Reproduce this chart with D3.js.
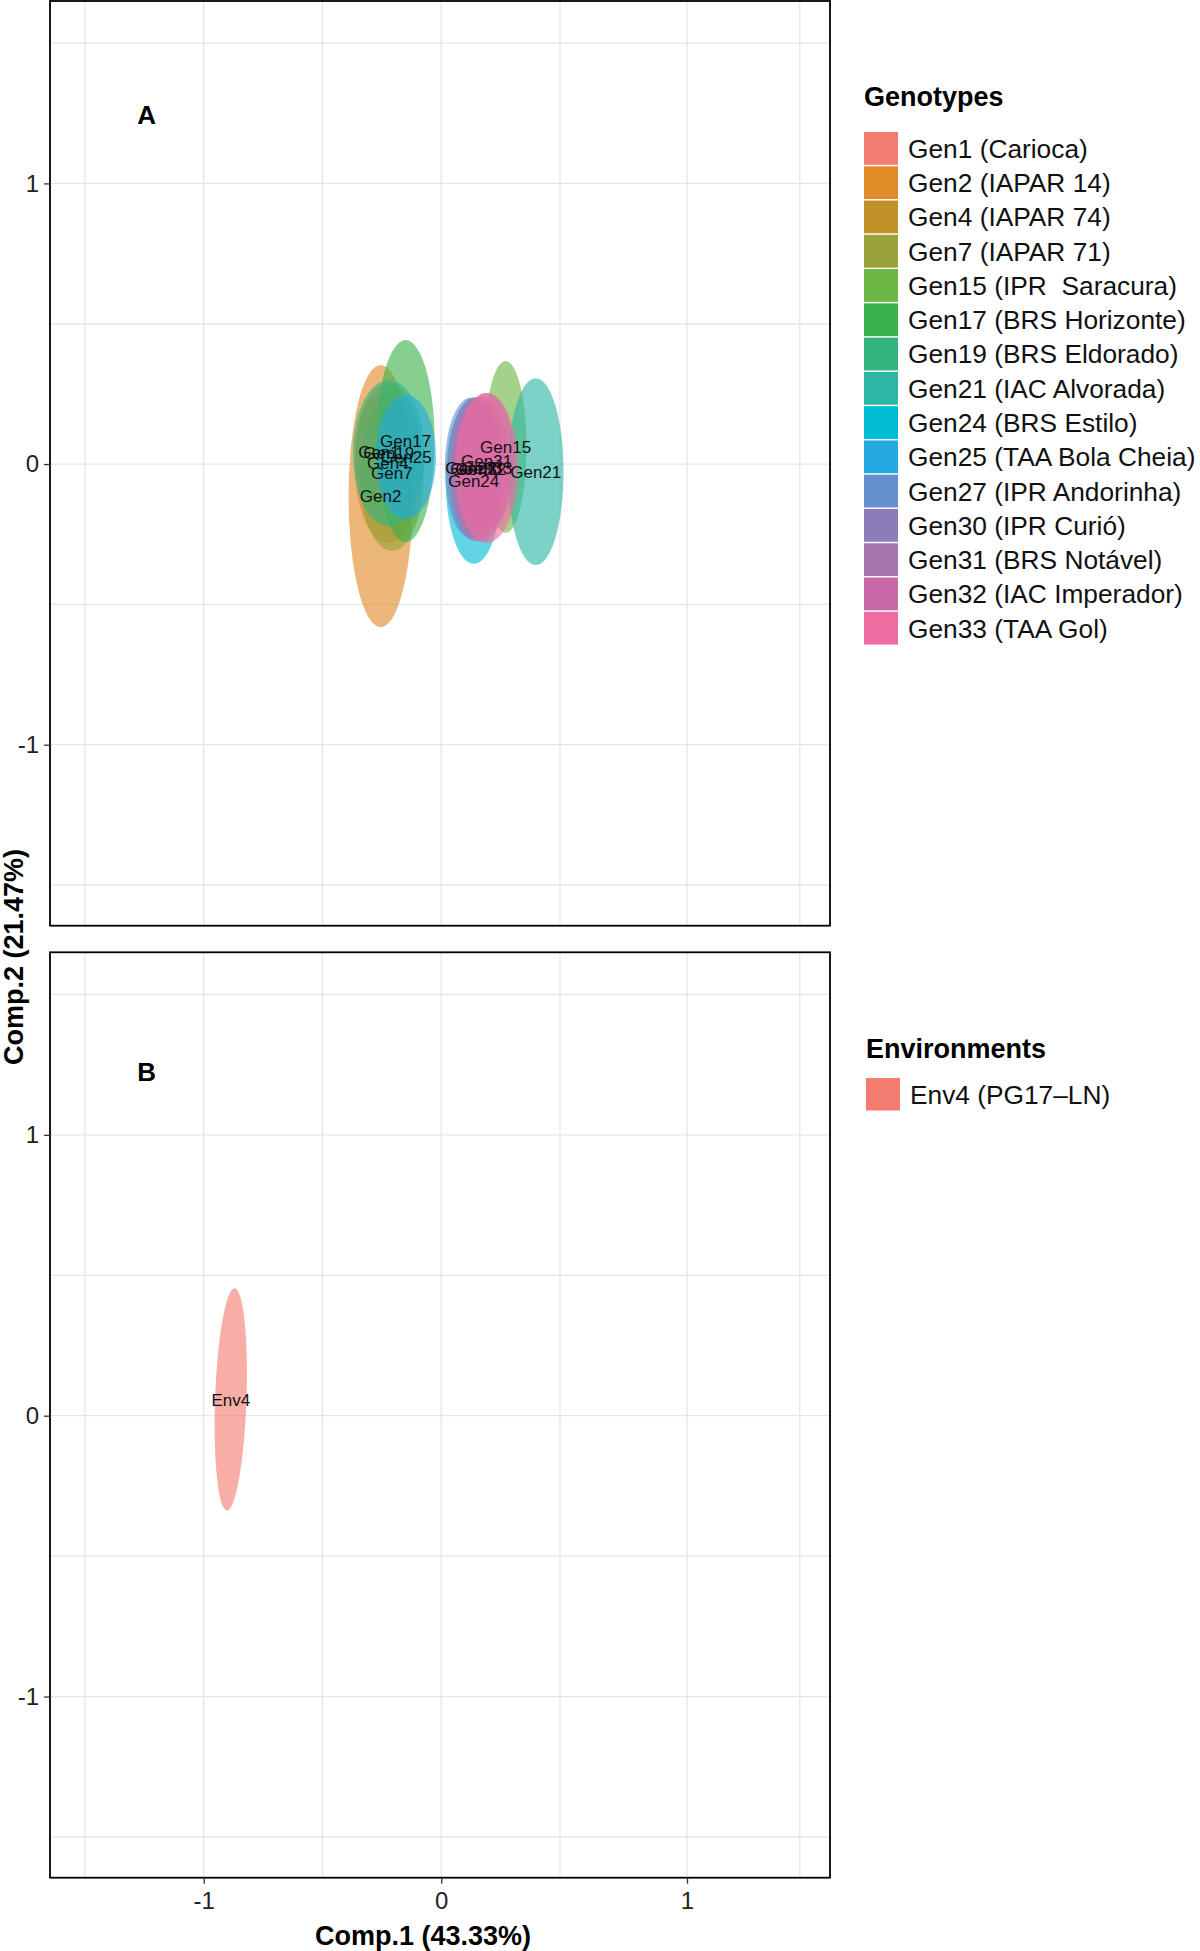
<!DOCTYPE html>
<html>
<head>
<meta charset="utf-8">
<script src="https://cdn.jsdelivr.net/npm/d3@7/dist/d3.min.js"></script>
<style>
  body { margin: 0; background: #fff; }
  svg text { font-family: "Liberation Sans", Arial, sans-serif; }
</style>
</head>
<body>
<svg id="chart" width="1200" height="1951"></svg>
<script>
// Genotype ellipses (panel A), centres and semi-axes in Comp.1 / Comp.2 units
var genotypes = ["Gen1", "Gen2", "Gen4", "Gen7", "Gen15", "Gen17", "Gen19", "Gen21",
                 "Gen24", "Gen25", "Gen27", "Gen30", "Gen31", "Gen32", "Gen33"];
var genotypeNames = ["Gen1 (Carioca)", "Gen2 (IAPAR 14)", "Gen4 (IAPAR 74)", "Gen7 (IAPAR 71)",
                     "Gen15 (IPR  Saracura)", "Gen17 (BRS Horizonte)", "Gen19 (BRS Eldorado)",
                     "Gen21 (IAC Alvorada)", "Gen24 (BRS Estilo)", "Gen25 (TAA Bola Cheia)",
                     "Gen27 (IPR Andorinha)", "Gen30 (IPR Curió)", "Gen31 (BRS Notável)",
                     "Gen32 (IAC Imperador)", "Gen33 (TAA Gol)"];
var genComp1 = [-0.262, -0.255, -0.225, -0.208, 0.271, -0.150, -0.221, 0.398,
                0.137, -0.148, 0.124, 0.145, 0.191, 0.166, 0.191];
var genComp2 = [0.043, -0.114, 0.004, -0.032, 0.061, 0.082, 0.039, -0.027,
                -0.061, 0.025, -0.014, -0.018, 0.011, -0.018, -0.014];
var genRad1 = [0.100, 0.135, 0.139, 0.135, 0.088, 0.122, 0.151, 0.116,
               0.118, 0.126, 0.109, 0.118, 0.118, 0.122, 0.133];
var genRad2 = [0.200, 0.467, 0.285, 0.278, 0.306, 0.360, 0.260, 0.333,
               0.294, 0.221, 0.250, 0.257, 0.242, 0.257, 0.267];
var genColors = ["#F37B70", "#E08A28", "#C0922A", "#9AA23A", "#6CB744", "#3AB24A", "#33B47F",
                 "#2BB6A5", "#00BCD2", "#24A9E1", "#6490CB", "#8C7DB9", "#A874B0", "#C968A6", "#EF6CA2"];

// Environment ellipse (panel B)
var environments = ["Env4"];
var envNames = ["Env4 (PG17\u2013LN)"];
var envComp1 = [-0.886];
var envComp2 = [0.058];
var envRad1 = [0.066];
var envRad2 = [0.396];
var envTilt = [2];
var envColors = ["#F37B70"];

var majorTicks = [-1, 0, 1];
var gridValues = [-1.5, -1, -0.5, 0, 0.5, 1, 1.5];

var svg = d3.select("#chart");
var font = '"Liberation Sans", Arial, sans-serif';

// the source figure is a little uneven on the right side of the x axis
var x = d3.scaleLinear().domain([-1.647, 0.5, 1, 1.634]).range([50, 560, 687, 830]);
var yA = d3.scaleLinear().domain([-1.645, 1.65]).range([925.7, 1]);
var yB = d3.scaleLinear().domain([-1.645, 1.65]).range([1877.7, 952.3]);
var xLeft = 50, xRight = 830;

function drawPanel(y, letter, letterY) {
  var g = svg.append("g");
  var y0 = y.range()[1], y1 = y.range()[0];
  g.selectAll("line.vg").data(gridValues).join("line")
    .attr("x1", d => x(d)).attr("x2", d => x(d))
    .attr("y1", y0).attr("y2", y1)
    .attr("stroke", "#e6e6e6").attr("stroke-width", 1.3);
  g.selectAll("line.hg").data(gridValues).join("line")
    .attr("x1", xLeft).attr("x2", xRight)
    .attr("y1", d => y(d)).attr("y2", d => y(d))
    .attr("stroke", "#e6e6e6").attr("stroke-width", 1.3);
  g.append("text")
    .attr("x", x(-1.24)).attr("y", y(letterY))
    .attr("text-anchor", "middle").attr("dy", "0.36em")
    .attr("font-size", 26).attr("font-weight", "bold")
    .text(letter);
  return g;
}

var gA = drawPanel(yA, "A", 1.245);
var gB = drawPanel(yB, "B", 1.225);

// genotype ellipses
var genIdx = d3.range(genotypes.length);
gA.selectAll("ellipse").data(genIdx).join("ellipse")
  .attr("cx", i => x(genComp1[i]))
  .attr("cy", i => yA(genComp2[i]))
  .attr("rx", i => x(genComp1[i] + genRad1[i]) - x(genComp1[i]))
  .attr("ry", i => yA(genComp2[i]) - yA(genComp2[i] + genRad2[i]))
  .attr("fill", i => genColors[i]).attr("fill-opacity", 0.62);
gA.selectAll("text.lab").data(genIdx).join("text")
  .attr("class", "lab")
  .attr("x", i => x(genComp1[i])).attr("y", i => yA(genComp2[i]))
  .attr("dy", "0.36em").attr("text-anchor", "middle")
  .attr("font-size", 17).attr("fill", "#111")
  .text(i => genotypes[i]);

// environment ellipse
var envIdx = d3.range(environments.length);
gB.selectAll("ellipse").data(envIdx).join("ellipse")
  .attr("cx", 0).attr("cy", 0)
  .attr("rx", i => x(envComp1[i] + envRad1[i]) - x(envComp1[i]))
  .attr("ry", i => yB(envComp2[i]) - yB(envComp2[i] + envRad2[i]))
  .attr("transform", i => "translate(" + x(envComp1[i]) + "," + yB(envComp2[i]) + ") rotate(" + envTilt[i] + ")")
  .attr("fill", i => envColors[i]).attr("fill-opacity", 0.62);
gB.selectAll("text.lab").data(envIdx).join("text")
  .attr("class", "lab")
  .attr("x", i => x(envComp1[i])).attr("y", i => yB(envComp2[i]))
  .attr("dy", "0.36em").attr("text-anchor", "middle")
  .attr("font-size", 17).attr("fill", "#111")
  .text(i => environments[i]);

// panel borders
[yA, yB].forEach(function (y) {
  svg.append("rect")
    .attr("x", xLeft).attr("y", y.range()[1])
    .attr("width", xRight - xLeft)
    .attr("height", y.range()[0] - y.range()[1])
    .attr("fill", "none").attr("stroke", "#000").attr("stroke-width", 1.8);
});

// axes
function styleAxis(a) {
  a.select(".domain").remove();
  a.selectAll(".tick line").attr("stroke", "#333").attr("stroke-width", 1.3);
  a.selectAll(".tick text").attr("font-size", 24).attr("fill", "#222").attr("font-family", font);
}
[yA, yB].forEach(function (y) {
  svg.append("g").attr("transform", "translate(50,0)")
    .call(d3.axisLeft(y).tickValues(majorTicks).tickSize(6).tickPadding(5).tickFormat(d => String(d)))
    .call(styleAxis);
});
svg.append("g").attr("transform", "translate(0,1877.7)")
  .call(d3.axisBottom(x).tickValues(majorTicks).tickSize(6).tickPadding(8).tickFormat(d => String(d)))
  .call(styleAxis);

// axis titles
svg.append("text")
  .attr("transform", "translate(423,1945)")
  .attr("text-anchor", "middle").attr("font-size", 27).attr("font-weight", "bold")
  .text("Comp.1 (43.33%)");
svg.append("text")
  .attr("transform", "translate(23,957) rotate(-90)")
  .attr("text-anchor", "middle").attr("font-size", 27).attr("font-weight", "bold")
  .text("Comp.2 (21.47%)");

// legends
function legend(title, names, colors, left, titleBase, top, rowH, keyH) {
  var g = svg.append("g");
  g.append("text").attr("x", left).attr("y", titleBase)
    .attr("font-size", 27).attr("font-weight", "bold").text(title);
  var rows = g.selectAll("g.row").data(names).join("g")
    .attr("transform", (d, i) => "translate(" + left + "," + (top + i * rowH) + ")");
  rows.append("rect").attr("width", 34).attr("height", keyH)
    .attr("fill", (d, i) => colors[i]);
  rows.append("text").attr("x", 44).attr("y", keyH / 2).attr("dy", "0.36em")
    .attr("font-size", 26.3).attr("fill", "#111")
    .style("white-space", "pre")
    .text(d => d);
}
legend("Genotypes", genotypeNames, genColors, 864, 106, 132, 34.27, 32.8);
legend("Environments", envNames, envColors, 866, 1058, 1078, 32.5, 32.5);
</script>
</body>
</html>
